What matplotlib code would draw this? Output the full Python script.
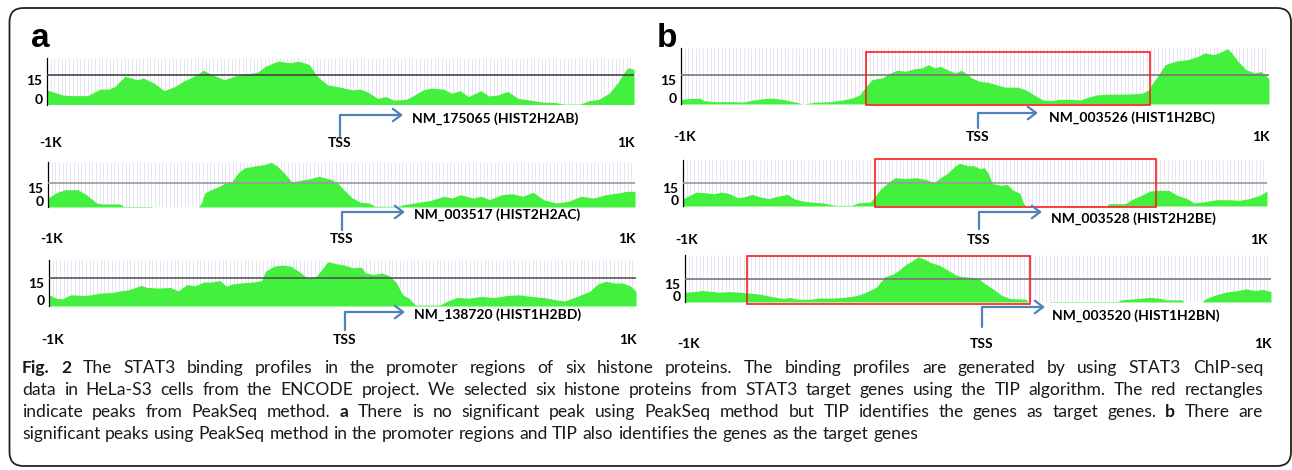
import numpy as np
import matplotlib
matplotlib.use("Agg")
import matplotlib.pyplot as plt
import matplotlib.transforms as mtransforms
from matplotlib.patches import FancyBboxPatch, FancyArrowPatch, Rectangle
from matplotlib.path import Path

# STAT3 ChIP-seq signal around the TSS: position (bp from TSS) and signal value
a1_pos = [-1000, -946, -918, -862, -819, -791, -770, -735, -693, -671, -636, -601, -566, -537, -495,
          -467, -439, -396, -354, -312, -283, -255, -213, -171, -142, -107, -79, -44, -1, 41,
          69, 97, 126, 154, 182, 224, 252, 281, 309, 351, 379, 408, 436, 478, 506,
          535, 570, 605, 647, 690, 732, 760, 817, 845, 880, 915, 944, 965, 979, 1000]
a1_val = [7.4, 4.8, 4.5, 4.5, 7.8, 7.8, 9.0, 14.3, 12.6, 13.4, 10.9, 7.0, 9.0, 11.7, 14.7,
          17.4, 15.2, 12.6, 14.7, 15.7, 16.4, 19.5, 22.0, 21.2, 22.0, 20.3, 14.3, 10.0, 8.8, 7.4,
          7.8, 6.0, 3.1, 4.0, 2.2, 2.6, 4.8, 7.4, 8.3, 7.8, 5.7, 7.0, 4.0, 7.0, 4.3,
          4.8, 6.6, 3.1, 2.2, 1.2, 1.0, 0.2, 0.2, 1.9, 2.6, 5.7, 10.9, 16.0, 18.6, 17.8]

a2_pos = [-1000, -969, -941, -898, -870, -834, -813, -756, -742, -650, -643, -487, -476, -466, -445,
          -416, -395, -374, -353, -331, -289, -261, -239, -218, -190, -169, -140, -112, -77, -55,
          -34, -13, 8, 37, 65, 93, 115, 193, 214, 249, 306, 348, 377, 405, 448,
          476, 504, 547, 582, 618, 653, 688, 731, 773, 816, 858, 901, 943, 972, 1000]
a2_val = [5.6, 9.2, 10.8, 10.8, 7.7, 2.5, 1.9, 1.9, 0.3, 0.3, 0.0, 0.0, 3.0, 8.8, 10.8,
          12.9, 15.0, 15.6, 21.2, 24.4, 25.8, 26.5, 27.9, 25.4, 20.2, 15.6, 16.7, 17.5, 19.2, 18.1,
          17.1, 15.0, 10.8, 5.6, 2.9, 2.5, 0.4, 0.4, 1.5, 2.5, 4.2, 6.7, 5.6, 7.7, 5.6,
          6.7, 4.6, 7.7, 8.3, 6.7, 9.2, 4.6, 2.5, 3.5, 6.7, 5.6, 7.7, 8.8, 9.8, 9.8]

a3_pos = [-1000, -976, -955, -926, -884, -856, -827, -785, -757, -728, -686, -665, -629, -587, -559,
          -530, -502, -474, -446, -417, -396, -375, -347, -304, -276, -262, -233, -205, -177, -149,
          -120, -92, -71, -50, -21, 7, 35, 64, 78, 106, 134, 163, 184, 205, 226,
          248, 332, 354, 389, 431, 474, 516, 559, 601, 644, 686, 728, 757, 799, 842,
          870, 898, 926, 955, 983, 1000]
a3_val = [6.0, 4.2, 3.8, 6.0, 5.6, 6.0, 6.9, 7.2, 8.1, 8.7, 11.0, 9.9, 9.6, 9.9, 8.1,
          11.4, 10.8, 12.8, 12.8, 13.6, 10.5, 11.8, 12.3, 12.8, 13.6, 18.6, 21.3, 21.9, 21.3, 18.6,
          15.0, 15.4, 19.4, 23.7, 22.6, 21.9, 20.4, 20.8, 17.7, 16.8, 17.7, 15.9, 12.3, 6.0, 4.2,
          0.5, 0.5, 2.4, 4.5, 4.2, 5.1, 4.5, 5.6, 6.0, 5.1, 4.5, 3.3, 2.7, 5.1, 7.8,
          11.8, 13.2, 12.3, 12.3, 10.5, 7.8]

b1_pos = [-1000, -972, -936, -922, -887, -816, -788, -753, -717, -689, -654, -618, -583, -569, -548,
          -491, -449, -420, -392, -371, -350, -314, -293, -265, -237, -208, -180, -159, -138, -117,
          -95, -67, -46, -25, -11, 18, 46, 74, 102, 145, 173, 201, 230, 258, 286,
          329, 357, 385, 413, 456, 498, 526, 569, 590, 604, 625, 647, 682, 724, 760,
          781, 810, 830, 859, 873, 894, 922, 951, 972, 993, 1000]
b1_val = [2.4, 2.8, 3.0, 1.7, 1.2, 1.2, 1.0, 2.1, 2.8, 3.0, 2.4, 1.2, 0.0, 0.3, 0.9,
          1.2, 2.1, 3.0, 4.7, 9.1, 12.6, 13.6, 15.7, 17.5, 16.9, 18.2, 18.7, 20.4, 18.7, 19.5,
          17.8, 16.0, 17.5, 15.2, 13.4, 11.7, 11.2, 9.9, 8.7, 8.7, 7.3, 4.7, 2.1, 1.7, 2.4,
          2.4, 2.1, 3.5, 4.7, 5.1, 5.1, 5.2, 5.6, 7.3, 10.8, 15.2, 20.4, 22.2, 23.0, 24.8,
          26.5, 25.6, 26.5, 28.6, 26.5, 22.2, 17.8, 16.0, 16.9, 14.3, 12.9]

b2_pos = [-1000, -976, -955, -919, -891, -869, -841, -813, -791, -763, -735, -706, -678, -642, -621,
          -593, -564, -522, -479, -422, -401, -358, -344, -323, -295, -273, -238, -202, -167, -138,
          -124, -96, -67, -53, -25, -4, 18, 32, 46, 60, 89, 110, 131, 153, 167,
          174, 309, 316, 415, 451, 458, 514, 543, 571, 600, 628, 664, 692, 727, 749,
          784, 827, 869, 905, 940, 976, 1000]
b2_val = [4.8, 7.0, 9.1, 8.5, 8.0, 9.1, 8.0, 5.4, 5.9, 7.6, 5.9, 4.8, 6.3, 7.6, 4.8,
          3.3, 2.6, 2.0, 0.4, 0.4, 2.0, 2.6, 5.9, 11.1, 15.7, 18.5, 17.8, 18.5, 17.2, 15.2,
          17.8, 21.0, 26.3, 27.8, 26.3, 26.3, 24.3, 25.0, 21.0, 14.6, 13.5, 14.1, 10.2, 8.5, 1.5,
          0.0, 0.0, 0.3, 0.3, 0.0, 1.5, 1.5, 4.8, 7.0, 9.8, 10.2, 10.2, 7.0, 4.8, 2.0,
          2.6, 4.1, 4.1, 3.7, 4.8, 7.0, 9.8]

b3_pos = [-1000, -969, -941, -912, -884, -848, -813, -785, -749, -728, -700, -664, -643, -615, -572,
          -544, -501, -459, -416, -381, -346, -317, -289, -268, -246, -225, -204, -183, -161, -133,
          -105, -76, -55, -20, 1, 23, 51, 79, 108, 164, 171, 242, 249, 476, 490,
          547, 589, 625, 639, 695, 703, 766, 773, 809, 844, 887, 915, 944, 972, 1000]
b3_val = [6.4, 6.8, 7.5, 7.0, 6.4, 6.8, 6.4, 5.9, 5.2, 4.5, 3.4, 2.3, 3.0, 1.8, 1.8,
          2.5, 2.5, 3.0, 4.1, 6.4, 9.8, 16.6, 18.2, 21.1, 24.5, 26.8, 29.5, 28.0, 25.7, 24.1,
          21.1, 17.7, 16.6, 16.1, 15.5, 12.0, 8.6, 4.5, 2.3, 1.8, 0.0, 0.0, 0.3, 0.3, 1.4,
          2.3, 3.0, 2.3, 1.4, 1.4, 0.0, 0.0, 1.8, 4.5, 6.4, 7.5, 8.6, 7.5, 8.2, 6.8]

genes_a = ['NM_175065 (HIST2H2AB)', 'NM_003517 (HIST2H2AC)', 'NM_138720 (HIST1H2BD)']
genes_b = ['NM_003526 (HIST1H2BC)', 'NM_003528 (HIST2H2BE)', 'NM_003520 (HIST1H2BN)']
# PeakSeq peaks (bp from TSS), panel b only
peaks_b = [(-371, 595), (-344, 619), (-789, 177)]
threshold = 15

# caption, *word* = bold; first three lines are justified
caption = [
    "*Fig.* *2* The STAT3 binding profiles in the promoter regions of six histone proteins. "
    "The binding profiles are generated by using STAT3 ChIP-seq",
    "data in HeLa-S3 cells from the ENCODE project. We selected six histone proteins from STAT3 "
    "target genes using the TIP algorithm. The red rectangles",
    "indicate peaks from PeakSeq method. *a* There is no significant peak using PeakSeq "
    "method but TIP identifies the genes as target genes. *b* There are",
    "significant peaks using PeakSeq method in the promoter regions and TIP also identifies the "
    "genes as the target genes",
]

# ---- layout (pixels of a 1292x470 canvas) ----
W, H = 1292, 470
GREEN = '#44f03e'
BLUE = '#4f81bd'
LAB = ['Lato', 'DejaVu Sans']
CAP = ['Lato', 'DejaVu Sans']
CAP_SIZE = 12.6

fig = plt.figure(figsize=(W / 100, H / 100), dpi=100)
ident = mtransforms.IdentityTransform()
renderer = fig.canvas.get_renderer()


def fx(x):
    return x / W


def fy(y):
    return 1 - y / H


# rows: x0, x1, top, bottom, ylim top, grey line colour, arrow (x, y, y_end, head x), gene (x, y), label y
rows_a = [
    (47, 634, 58, 104.5, 23.6, '#444444', (340, 115, 136, 403), (412, 119), 143),
    (48, 635, 162, 207, 28.1, '#999999', (342, 212, 230, 405), (414, 215), 239),
    (49, 636, 260, 306, 24.6, '#555555', (345, 312, 330, 405), (414, 315), 340),
]
rows_b = [
    (681, 1269, 48, 104, 29.0, '#777777', (978, 113, 128, 1038), (1049, 118), 137),
    (683, 1267, 160, 206, 30.0, '#999999', (979, 212, 229, 1042), (1051, 219), 240),
    (685, 1271, 255, 302, 30.7, '#777777', (982, 307, 327, 1045), (1052, 316), 344),
]
box_y = [(-0.02, 0.93), (-0.02, 1.02), (-0.04, 0.98)]

profiles_a = [(a1_pos, a1_val), (a2_pos, a2_val), (a3_pos, a3_val)]
profiles_b = [(b1_pos, b1_val), (b2_pos, b2_val), (b3_pos, b3_val)]

# rounded frame
frame = FancyBboxPatch((9.5, H - 466), 1281.5, 458, boxstyle='round,pad=0,rounding_size=14',
                       transform=ident, fill=False, ec='#222222', lw=1.3)
fig.add_artist(frame)

fig.text(fx(31), fy(47), 'a', fontsize=24, fontweight='bold', family=['Liberation Sans', 'DejaVu Sans'],
         va='baseline', ha='left')
fig.text(fx(657), fy(47), 'b', fontsize=24, fontweight='bold', family=['Liberation Sans', 'DejaVu Sans'],
         va='baseline', ha='left')


def draw_track(row, prof, gene, peak=None, by=None):
    x0, x1, top, bottom, ytop, gcol, arr, gpos, ly = row
    ax = fig.add_axes([fx(x0), fy(bottom), (x1 - x0) / W, (bottom - top) / H])
    ax.set_xlim(-1000, 1000)
    ax.set_ylim(0, ytop)
    ax.vlines(np.linspace(-1000, 1000, 160), 0, ytop, colors='#e6e6f2', lw=0.7, zorder=0)
    ax.fill_between(prof[0], prof[1], 0, color=GREEN, lw=0, zorder=2)
    ax.axhline(threshold, color=gcol, lw=1.2, zorder=3)
    for s in ['top', 'right', 'bottom']:
        ax.spines[s].set_visible(False)
    ax.spines['left'].set_color('black')
    ax.spines['left'].set_linewidth(0.9)
    ax.set_xticks([])
    ax.set_yticks([])
    ax.patch.set_alpha(0)

    tr = mtransforms.blended_transform_factory(ax.transAxes, ax.transData)
    ax.text(0, threshold, '15', transform=mtransforms.offset_copy(tr, fig=fig, x=-4.5, y=-6, units='dots'),
            ha='right', va='center', fontsize=10, fontweight='bold', family=LAB)
    ax.text(0, 0, '0', transform=mtransforms.offset_copy(tr, fig=fig, x=-4.5, y=5, units='dots'),
            ha='right', va='center', fontsize=10, fontweight='bold', family=LAB)

    if peak is not None:
        btr = mtransforms.blended_transform_factory(ax.transData, ax.transAxes)
        ax.add_patch(Rectangle((peak[0], by[0]), peak[1] - peak[0], by[1] - by[0], transform=btr,
                               fill=False, ec='#ff1a1a', lw=1.2, zorder=5, clip_on=False))

    ax_x, ay, ay_end, hx = arr
    path = Path([(ax_x, H - ay_end), (ax_x, H - ay), (hx, H - ay)])
    fig.add_artist(FancyArrowPatch(path=path, arrowstyle='->,head_length=0.4,head_width=0.3',
                                   mutation_scale=15, lw=1.6, color=BLUE, transform=ident))
    fig.text(fx(gpos[0]), fy(gpos[1]), gene, fontsize=10, fontweight='bold', family=LAB,
             ha='left', va='center')
    fig.text(fx(x0 - 8), fy(ly), '-1K', fontsize=10, fontweight='bold', family=LAB, ha='left', va='center')
    fig.text(fx(ax_x), fy(ly), 'TSS', fontsize=10, fontweight='bold', family=LAB, ha='center', va='center')
    fig.text(fx(x1 + 1), fy(ly), '1K', fontsize=10, fontweight='bold', family=LAB, ha='right', va='center')


for row, prof, gene in zip(rows_a, profiles_a, genes_a):
    draw_track(row, prof, gene)
for row, prof, gene, peak, by in zip(rows_b, profiles_b, genes_b, peaks_b, box_y):
    draw_track(row, prof, gene, peak, by)


def text_width(s, weight='normal'):
    t = fig.text(0, 0, s, fontsize=CAP_SIZE, family=CAP, fontweight=weight)
    w = t.get_window_extent(renderer).width
    t.remove()
    return w


space_w = text_width('n n') - text_width('nn')
cap_left, cap_right = 22, 1263

for i, line in enumerate(caption):
    y = fy(373 + 22 * i)
    words = []
    for tok in line.split(' '):
        bold = tok.startswith('*') and tok.endswith('*')
        t = fig.text(0, y, tok.strip('*'), fontsize=CAP_SIZE, family=CAP, color='#1a1a1a',
                     fontweight='bold' if bold else 'normal', ha='left', va='baseline')
        words.append((t, t.get_window_extent(renderer).width))
    total = sum(w for _, w in words)
    if i < len(caption) - 1:
        gap = (cap_right - cap_left - total) / (len(words) - 1)
    else:
        gap = space_w
    x = cap_left
    for t, w in words:
        t.set_x(fx(x))
        x += w + gap

fig.savefig('out.png', dpi=100)
